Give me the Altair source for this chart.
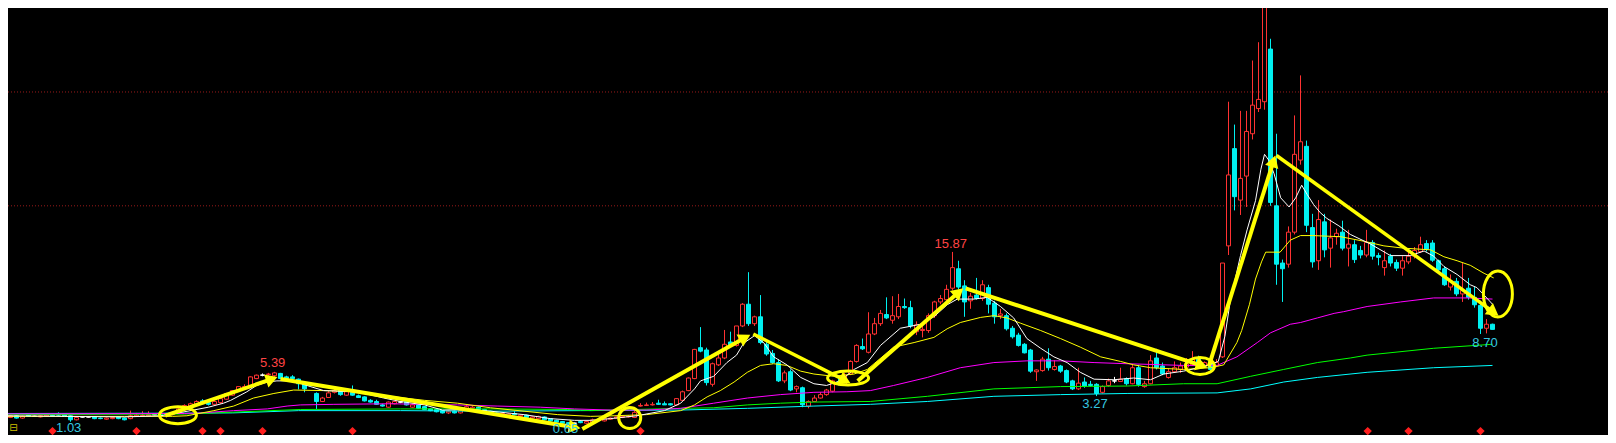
import math
import altair as alt
import pandas as pd

# ---------------- data ----------------
opens = [1.60,1.40,1.55,1.35,1.60,1.50,1.45,1.50,1.60,1.75,
         1.70,1.55,1.20,1.45,1.45,1.45,1.35,1.25,1.30,1.45,
         1.35,1.30,1.50,1.55,1.55,1.65,1.75,1.70,1.65,1.80,
         2.15,2.35,2.50,2.85,2.70,2.55,2.70,3.00,3.35,3.75,
         4.05,4.20,4.80,5.10,5.15,5.05,5.25,4.95,4.95,4.75,
         4.40,4.30,3.50,2.80,3.15,3.60,3.90,3.35,3.60,3.30,
         3.20,2.90,2.80,2.50,2.30,2.60,2.75,2.80,2.30,2.50,
         2.35,2.15,2.10,2.00,1.80,1.95,1.80,2.10,2.20,2.30,
         2.10,1.95,1.80,1.55,1.60,1.75,1.50,1.60,1.35,1.30,
         1.45,1.30,1.15,1.05,0.95,0.90,1.05,0.90,1.00,1.15,
         1.10,1.25,1.35,1.40,1.45,1.40,2.40,2.45,2.50,2.65,
         2.60,2.60,2.50,2.90,3.75,4.80,7.50,7.30,4.30,6.00,
         6.60,8.00,7.70,9.40,11.30,9.60,10.20,7.80,7.00,6.20,
         4.60,5.40,3.90,4.00,2.40,2.80,3.10,3.40,3.70,4.50,
         4.30,5.20,6.30,7.60,7.10,8.70,9.60,10.40,9.90,10.20,
         11.10,11.00,8.90,9.00,9.00,10.30,11.50,11.70,12.70,14.40,
         12.90,11.60,12.10,11.80,12.75,11.40,10.30,10.30,9.20,8.60,
         7.80,7.30,5.40,5.50,6.50,5.60,5.90,5.50,4.60,3.90,
         4.50,4.30,4.30,3.60,4.20,4.60,4.55,4.80,4.35,5.75,
         4.10,4.35,6.60,5.90,4.90,5.40,5.60,5.80,6.00,6.50,
         5.90,6.30,5.90,6.70,16.40,24.90,20.40,22.50,26.20,28.40,
         29.00,33.60,19.90,14.90,14.80,17.60,23.90,25.10,18.00,15.10,
         18.50,16.20,17.20,17.60,16.20,16.50,16.00,15.60,16.70,15.55,
         14.50,15.50,14.95,14.45,15.00,15.50,15.90,16.60,16.65,15.10,
         14.40,12.80,13.30,12.20,12.70,11.90,11.20,9.20,9.55]
highs = [1.65,1.60,1.60,1.55,1.65,1.55,1.60,1.65,1.70,1.85,
         1.75,1.60,1.50,1.50,1.50,1.50,1.40,1.40,1.45,1.50,
         1.40,2.00,1.80,1.95,1.95,1.70,1.80,1.80,1.90,2.30,
         2.55,2.70,2.90,3.00,2.85,2.90,3.10,3.55,3.80,4.15,
         4.30,5.00,5.15,5.25,5.30,5.39,5.30,5.05,5.10,4.80,
         4.50,4.40,3.60,3.20,3.70,3.90,4.00,3.80,4.20,3.40,
         3.25,3.00,2.95,2.60,2.80,2.85,2.85,2.85,2.60,2.55,
         2.40,2.20,2.15,2.05,2.00,2.00,2.05,2.50,2.40,2.35,
         2.15,2.00,1.85,1.80,1.75,1.95,1.65,1.65,1.50,1.55,
         1.50,1.35,1.20,1.10,1.00,0.95,1.15,1.10,1.30,1.25,
         1.35,1.40,1.50,1.55,1.60,2.00,2.65,2.70,2.75,2.95,
         2.80,2.65,3.10,3.75,4.90,7.40,9.30,7.50,6.20,7.20,
         9.05,8.90,9.40,11.40,14.10,10.30,12.10,8.00,7.30,6.50,
         5.50,5.60,4.20,4.10,2.90,3.35,3.60,3.90,4.70,4.80,
         5.30,6.40,7.80,8.30,10.60,10.10,10.80,11.90,12.00,12.20,
         11.80,11.60,9.80,9.40,10.50,11.60,12.10,13.00,15.87,15.10,
         13.40,12.30,13.60,13.40,13.00,11.60,10.90,10.50,9.40,8.80,
         7.90,7.40,5.60,6.70,7.45,6.40,6.00,5.60,4.70,5.75,
         4.90,4.60,4.40,4.20,4.80,4.95,5.75,4.90,6.00,6.00,
         4.60,6.85,7.40,6.20,5.70,6.30,6.20,6.60,7.20,6.80,
         6.30,6.50,6.50,14.90,29.00,27.00,28.20,28.20,32.60,34.20,
         38.50,34.50,26.20,15.20,18.10,27.80,31.30,25.60,19.20,20.40,
         19.20,18.70,17.90,18.60,17.80,16.90,16.40,17.80,16.90,15.80,
         16.00,15.70,15.20,15.50,15.90,16.30,17.20,16.90,16.90,15.20,
         14.60,13.90,13.60,14.90,13.60,12.80,11.60,10.00,9.60]
lows = [1.35,1.35,1.30,1.30,1.45,1.45,1.40,1.45,1.50,1.55,
        1.45,1.03,1.15,1.40,1.40,1.25,1.25,1.20,1.25,1.25,
        1.15,1.25,1.45,1.50,1.50,1.60,1.60,1.60,1.60,1.75,
        2.10,2.30,2.45,2.55,2.45,2.50,2.60,2.95,3.30,3.70,
        3.95,4.15,4.75,5.00,5.05,4.95,4.75,4.70,4.60,3.85,
        3.60,4.10,2.15,2.75,3.10,3.50,3.30,3.30,3.30,3.10,
        2.80,2.70,2.50,2.35,2.25,2.55,2.65,2.45,2.25,2.15,
        2.05,1.95,1.85,1.75,1.70,1.75,1.75,2.05,2.15,2.05,
        1.90,1.65,1.55,1.50,1.45,1.60,1.45,1.35,1.30,1.25,
        1.15,1.05,0.95,0.85,0.80,0.65,0.90,0.85,0.95,1.10,
        1.05,1.20,1.30,1.35,1.40,1.35,2.35,2.40,2.45,2.50,
        2.50,2.45,2.45,2.85,3.70,4.75,7.10,4.20,4.10,5.90,
        6.50,7.60,7.60,9.30,9.40,9.40,7.80,6.80,6.10,4.50,
        4.40,3.70,3.60,2.30,2.20,2.75,3.05,3.30,3.60,4.20,
        4.20,5.10,6.20,7.30,7.00,8.60,9.40,10.00,9.60,10.00,
        10.90,9.20,8.60,8.40,8.80,10.10,11.30,11.50,12.50,12.60,
        10.20,10.90,11.70,11.60,10.50,9.60,10.00,9.00,8.30,7.60,
        7.00,5.30,4.60,5.40,5.50,5.50,5.30,4.40,3.80,3.80,
        4.00,4.10,3.27,3.50,4.10,4.40,4.50,4.20,4.30,4.10,
        4.00,4.30,5.60,5.10,4.80,5.35,5.30,5.70,5.90,5.80,
        5.80,5.30,5.80,6.60,15.60,19.50,19.10,19.80,25.70,28.10,
        28.30,19.90,13.00,11.50,14.50,17.40,23.50,17.60,14.50,14.30,
        15.40,14.50,16.50,16.00,14.60,14.90,15.30,15.40,15.20,14.70,
        13.80,14.60,14.20,13.80,14.80,15.30,15.80,15.90,15.00,14.00,
        12.90,12.50,12.00,11.50,11.70,11.00,8.70,8.75,9.10]
closes = [1.40,1.55,1.35,1.50,1.50,1.50,1.55,1.60,1.55,1.60,
          1.50,1.20,1.40,1.45,1.45,1.30,1.30,1.35,1.40,1.30,
          1.20,1.55,1.60,1.60,1.65,1.65,1.65,1.65,1.85,2.15,
          2.45,2.60,2.80,2.60,2.55,2.80,3.05,3.50,3.75,4.10,
          4.10,4.95,5.10,5.10,5.20,5.30,4.80,4.80,4.80,4.35,
          3.90,4.20,2.80,3.10,3.55,3.75,3.40,3.65,3.35,3.15,
          2.85,2.75,2.55,2.40,2.75,2.80,2.75,2.50,2.50,2.20,
          2.10,2.00,1.90,1.80,1.95,1.80,2.00,2.35,2.30,2.10,
          1.95,1.70,1.60,1.75,1.70,1.65,1.60,1.40,1.45,1.50,
          1.20,1.10,1.00,0.90,0.85,0.90,0.95,1.05,1.20,1.15,
          1.30,1.35,1.45,1.50,1.50,1.85,2.45,2.50,2.55,2.55,
          2.50,2.50,3.05,3.65,4.85,7.35,7.20,4.45,6.10,6.60,
          7.80,7.75,9.40,11.30,9.60,10.20,7.95,6.95,6.20,4.60,
          5.30,3.80,4.10,2.50,2.80,3.10,3.40,3.80,4.60,4.30,
          5.10,6.30,7.70,7.40,8.70,9.60,10.50,10.10,10.30,11.10,
          11.00,9.40,9.50,9.10,10.30,11.50,11.80,12.60,14.50,12.80,
          11.50,12.00,11.80,13.00,11.30,10.20,10.45,9.15,8.45,7.70,
          7.05,5.45,5.55,6.50,5.75,5.85,5.45,4.50,3.90,4.40,
          4.15,4.20,3.50,4.10,4.60,4.60,4.75,4.35,5.75,4.30,
          4.35,6.35,5.75,5.20,5.40,5.75,5.90,6.10,6.50,6.10,
          6.20,5.60,6.20,14.90,22.60,20.70,22.30,26.40,28.70,29.20,
          37.40,20.20,14.80,14.40,17.60,24.40,25.50,18.20,15.00,18.70,
          16.05,17.10,17.50,16.20,16.55,15.20,15.60,16.70,15.50,15.40,
          15.10,14.90,14.45,15.10,15.50,16.00,16.50,16.10,15.15,14.30,
          13.00,13.30,12.20,12.50,11.90,11.25,9.20,9.55,9.10]

# moving-average lines: (bar index, price)
ma_white = [(0,1.55),(10,1.5),(20,1.45),(26,1.55),(29,1.8),(31.5,2.05),(34,2.3),(36.5,2.65),
            (37.7,2.9),(40.4,3.65),(42,4.2),(43.8,4.5),(45.4,4.6),(48,4.6),(51,4.1),(53.2,3.75),
            (58.8,3.65),(63.2,3.1),(66,2.8),(70,2.5),(73,2.05),(77.7,2.1),(81,1.95),(86.6,1.65),
            (91,1.3),(95,1.15),(97.7,1.15),(101,1.3),(105.4,1.55),(110,2.0),(112.7,2.65),(115,3.9),
            (116,4.6),(118.2,5.0),(120.4,6.2),(122,6.85),(123.2,7.9),(125,8.55),(126.6,7.9),
            (128.2,6.7),(130.4,6.0),(132.7,4.9),(134.9,4.35),(137,4.2),(139.3,4.6),(141.6,5.6),
            (143.8,6.2),(146,7.7),(149.3,9.2),(152.7,9.55),(154.9,10.2),(157.1,11.25),(158.8,11.75),
            (161.6,11.75),(163.8,11.9),(166,11.1),(168.2,10.1),(170.4,8.3),(172.7,7.45),(174.9,6.7),
            (177.1,6.2),(179.3,5.35),(181.6,4.75),(184.9,4.7),(188.2,4.85),(191,4.7),(193.2,5.2),
            (196.5,5.45),(199.9,5.85),(202.3,6.3),(203.4,8.5),(204.3,11.6),(206,15.55),(207.1,17.8),
            (208.5,20.35),(209.4,23.1),(210,24.4),(210.7,23.9),(211.6,22.7),(212.7,20.6),(214.1,19.8),
            (215.2,20.6),(216.2,21.7),(217.1,20.9),(218.2,20.0),(219.3,19.3),(220.4,18.8),(222.4,18.15),
            (224.3,17.4),(227.7,16.55),(231,15.55),(234.3,15.55),(236.6,15.95),(238.2,15.5),
            (239.9,14.6),(242.1,13.9),(244.3,13.0),(245.4,12.75),(246.6,12.1),(248,11.3)]
ma_yellow = [(0,1.5),(20,1.5),(28,1.5),(30.4,1.55),(34.9,2.0),(38.2,2.4),(41.5,3.1),(44.9,3.5),
             (48.2,3.8),(53.2,3.75),(58.8,3.65),(64.3,3.25),(70,2.9),(75.5,2.65),(81,2.25),
             (86.6,1.95),(92.2,1.65),(97.7,1.5),(101.6,1.55),(107,1.65),(112.7,2.0),(115,2.5),
             (117.1,3.2),(119.3,3.75),(121.6,4.5),(123.8,5.35),(126,5.95),(128.2,6.1),(130.4,5.95),
             (132.7,5.45),(134.9,5.2),(138.2,5.0),(141.6,5.2),(143.8,5.6),(148.2,7.55),(151.6,7.95),
             (154.9,8.4),(157.1,9.15),(159.3,9.7),(162.7,10.15),(164.9,10.3),(167.1,10.1),(169.3,9.65),
             (172.7,9.0),(176,8.3),(179.3,7.55),(182.7,6.7),(186,6.3),(188.2,6.0),(191,5.75),
             (196.5,5.6),(201,5.75),(203.2,6.0),(205.4,7.95),(206.2,9.0),(207.5,11.3),(208.5,13.5),
             (209.5,15.0),(210.2,15.85),(212.6,15.85),(214.3,16.9),(216,17.3),(218,17.3),(222.7,17.2),
             (226.6,16.8),(229.9,16.4),(233.2,16.2),(237.7,16.05),(239.9,15.45),(242.1,15.1),
             (244.3,14.7),(246.6,14.0),(248.2,13.6)]
ma_magenta = [(0,1.72),(30,1.75),(32.7,1.8),(38.2,2.0),(43.8,2.15),(47.1,2.4),(49.3,2.5),(54.9,2.55),
              (64.3,2.6),(75.5,2.5),(82.1,2.4),(89.3,2.3),(95,2.15),(101,2.05),(107,2.05),(112.7,2.2),
              (118.2,2.65),(123.8,3.1),(129.3,3.4),(134.9,3.6),(140.4,3.65),(144.3,3.75),(148.2,4.2),
              (153.8,4.9),(159.3,5.75),(164.9,6.2),(170.4,6.35),(176,6.35),(181.6,6.2),(187.1,6.1),
              (196.5,5.95),(202.1,5.95),(205.4,6.7),(208.8,7.95),(211,8.8),(214.3,9.55),(216,9.7),
              (218.8,10.1),(221.6,10.5),(223.2,10.65),(227.1,11.1),(232.7,11.5),(238.2,11.85),
              (243.8,11.85),(248,11.75)]
ma_green = [(0,1.65),(30,1.7),(38.2,1.87),(49.3,2.1),(66,2.15),(81,2.15),(93.8,2.1),(97.7,2.0),
            (112.7,2.2),(118.2,2.25),(123.8,2.5),(129.3,2.65),(134.9,2.75),(144.3,2.8),(153.8,3.25),
            (164.9,3.9),(176,4.1),(187.1,4.15),(196.5,4.35),(202.1,4.35),(207.7,5.0),(213.2,5.6),
            (218.8,6.2),(224.3,6.6),(227.1,6.85),(238.2,7.45),(248,7.8)]
ma_cyan = [(0,1.75),(30,1.78),(38,1.8),(49,2.0),(66,2.0),(81,1.95),(96,2.0),(112.7,2.05),
           (123.8,2.2),(134.9,2.4),(144.3,2.55),(153.8,2.8),(164.9,3.25),(176,3.4),(187.1,3.5),
           (202.1,3.55),(207.7,3.9),(213.2,4.5),(218.8,4.9),(227.1,5.35),(238.2,5.75),(248,5.95)]

# hand-drawn yellow arrows: start (bar, price) -> tip (bar, price), thickness
arrow_from_i = [26.8, 46.0, 96.3, 124.8, 142.2, 160.2, 200.7, 212.0]
arrow_from_p = [1.56, 4.76, 0.40, 8.70, 4.60, 12.68, 5.85, 24.3]
arrow_to_i = [45.5, 96.0, 124.3, 141.0, 159.8, 200.5, 211.8, 249.0]
arrow_to_p = [4.93, 0.46, 8.63, 4.40, 12.70, 5.77, 24.3, 10.3]
arrow_width = [4, 4, 4, 3.5, 4, 4, 4, 3.5]

# yellow ellipses: centre (bar, price), width/height in px
ell_i = [28.9, 104.2, 140.6, 199.25, 248.9]
ell_p = [1.60, 1.35, 4.85, 5.90, 12.2]
ell_w = [37, 22, 41, 29, 29]
ell_h = [17, 21, 14, 17, 46]

# price labels
label_text = ["5.39", "15.87", "1.03", "0.65", "3.27", "8.70"]
label_i = [44.7, 157.7, 10.7, 93.5, 181.75, 246.75]
label_p = [6.2, 16.55, 0.50, 0.42, 2.57, 7.88]
label_kind = ["hi", "hi", "lo", "lo", "lo", "lo"]

# red signal diamonds along the bottom
signal_i = [8, 22, 33, 36, 43, 58, 106, 227.2, 234, 246]
signal_p = 0.21

grid_levels = [19.9, 29.85]

# ---------------- styling ----------------
W, H = 1600, 427
BAR_PX = 6.0
X0 = 0.5833
X_DOM = [X0, X0 + W / BAR_PX]
Y_DOM = [-0.13, 37.19]
RED = "#ff3232"
CYAN = "#00f0f0"
WHITE = "#ffffff"
YELLOW = "#ffff00"
LBL_RED = "#ff4444"
LBL_CYAN = "#36c8e0"

xs = alt.Scale(domain=X_DOM, nice=False, zero=False)
ys = alt.Scale(domain=Y_DOM, nice=False, zero=False)


def X(f):
    return alt.X(f, type="quantitative", scale=xs, axis=None)


def Y(f):
    return alt.Y(f, type="quantitative", scale=ys, axis=None)


n = min(len(opens), len(highs), len(lows), len(closes))
rows = []
for k in range(n):
    o, h, l, c = opens[k], highs[k], lows[k], closes[k]
    d = "up" if c > o else ("down" if c < o else "flat")
    rows.append(dict(i=k, o=o, h=h, l=l, c=c, d=d))
cdf = pd.DataFrame(rows)
DIRS = ["up", "down", "flat"]
half_body = 2.0 / BAR_PX

layers = []

grid = alt.Chart(pd.DataFrame({"v": grid_levels})).mark_rule(
    color="#9a1a1a", strokeDash=[1, 2], strokeWidth=1).encode(y=Y("v"))
layers.append(grid)

wick = alt.Chart(cdf).mark_rule(strokeWidth=1, clip=True).encode(
    x=X("i"), y=Y("l"), y2="h",
    color=alt.Color("d:N", scale=alt.Scale(domain=DIRS, range=[RED, CYAN, WHITE]), legend=None))
layers.append(wick)

body = alt.Chart(cdf).transform_calculate(
    x1=f"datum.i - {half_body}", x2=f"datum.i + {half_body}"
).mark_rect(strokeWidth=1, clip=True).encode(
    x=X("x1"), x2="x2", y=Y("o"), y2="c",
    fill=alt.Fill("d:N", scale=alt.Scale(domain=DIRS, range=["#000000", CYAN, WHITE]), legend=None),
    stroke=alt.Stroke("d:N", scale=alt.Scale(domain=DIRS, range=[RED, CYAN, WHITE]), legend=None))
layers.append(body)

doji = alt.Chart(cdf).transform_filter("datum.d == 'flat'").transform_calculate(
    x1=f"datum.i - {half_body}", x2=f"datum.i + {half_body}"
).mark_rule(color=WHITE, strokeWidth=1).encode(x=X("x1"), x2="x2", y=Y("o"))
layers.append(doji)

for pts, col in [(ma_cyan, "#00ffff"), (ma_green, "#00ff00"), (ma_magenta, "#ff00ff"),
                 (ma_yellow, "#ffff00"), (ma_white, "#ffffff")]:
    df = pd.DataFrame(pts, columns=["i", "v"])
    layers.append(alt.Chart(df).mark_line(color=col, strokeWidth=1, clip=True).encode(
        x=X("i"), y=Y("v"), order="i:Q"))

# arrows
sx = W / (X_DOM[1] - X_DOM[0])
sy = H / (Y_DOM[1] - Y_DOM[0])
HEAD = 190
r = math.sqrt(HEAD) / 2
hh = math.sqrt(3) * r / 2
arows = []
for a in range(len(arrow_from_i)):
    i1, p1, i2, p2 = arrow_from_i[a], arrow_from_p[a], arrow_to_i[a], arrow_to_p[a]
    dxp = (i2 - i1) * sx
    dyp = -(p2 - p1) * sy
    ln = math.hypot(dxp, dyp)
    ux, uy = dxp / ln, dyp / ln
    ang = math.degrees(math.atan2(ux, -uy)) % 360
    ci = i2 - ux * hh / sx
    cp = p2 + uy * hh / sy
    ei = i2 - ux * hh * 1.3 / sx
    ep = p2 + uy * hh * 1.3 / sy
    arows.append(dict(i1=i1, p1=p1, ei=ei, ep=ep, ci=ci, cp=cp, ang=ang, w=arrow_width[a]))
adf = pd.DataFrame(arows)
shaft = alt.Chart(adf).mark_rule(color=YELLOW, strokeCap="butt").encode(
    x=X("i1"), y=Y("p1"), x2="ei", y2="ep",
    strokeWidth=alt.StrokeWidth("w:Q", scale=None))
head = alt.Chart(adf).mark_point(shape="triangle-up", filled=True, color=YELLOW, opacity=1,
                                 size=HEAD, strokeWidth=0).encode(
    x=X("ci"), y=Y("cp"), angle=alt.Angle("ang:Q", scale=None))
layers += [shaft, head]

for k in range(len(ell_i)):
    w, h = ell_w[k], ell_h[k]
    m = max(w, h)
    rx, ry = w / m, h / m
    path = (f"M {-rx:.3f},0 A {rx:.3f},{ry:.3f} 0 1,0 {rx:.3f},0 "
            f"A {rx:.3f},{ry:.3f} 0 1,0 {-rx:.3f},0 Z")
    edf = pd.DataFrame({"i": [ell_i[k]], "p": [ell_p[k]]})
    layers.append(alt.Chart(edf).mark_point(shape=path, size=m * m, filled=False,
                                            color=YELLOW, strokeWidth=3, opacity=1).encode(
        x=X("i"), y=Y("p")))

ldf = pd.DataFrame({"t": label_text, "i": label_i, "p": label_p,
                    "col": [LBL_RED if k == "hi" else LBL_CYAN for k in label_kind]})
labels = alt.Chart(ldf).mark_text(font="Liberation Sans", fontSize=13, baseline="middle",
                                  align="center").encode(
    x=X("i"), y=Y("p"), text="t:N", color=alt.Color("col:N", scale=None))
layers.append(labels)

sdf = pd.DataFrame({"i": signal_i, "p": [signal_p] * len(signal_i)})
sig = alt.Chart(sdf).mark_point(shape="diamond", filled=True, color="#ff1e1e", size=70,
                                opacity=1).encode(x=X("i"), y=Y("p"))
layers.append(sig)

icon = alt.Chart(pd.DataFrame({"i": [0.8], "p": [0.45], "t": ["⊟"]})).mark_text(
    color="#d0c000", fontSize=10, font="DejaVu Sans", align="left", baseline="middle"
).encode(x=X("i"), y=Y("p"), text="t:N")
layers.append(icon)

chart = alt.layer(*layers).properties(
    width=W, height=H, background="#000000", padding=0,
    autosize=alt.AutoSizeParams(type="none")
).configure_view(stroke=None)

chart.save("out.html", embed_options={"renderer": "svg", "actions": False})
